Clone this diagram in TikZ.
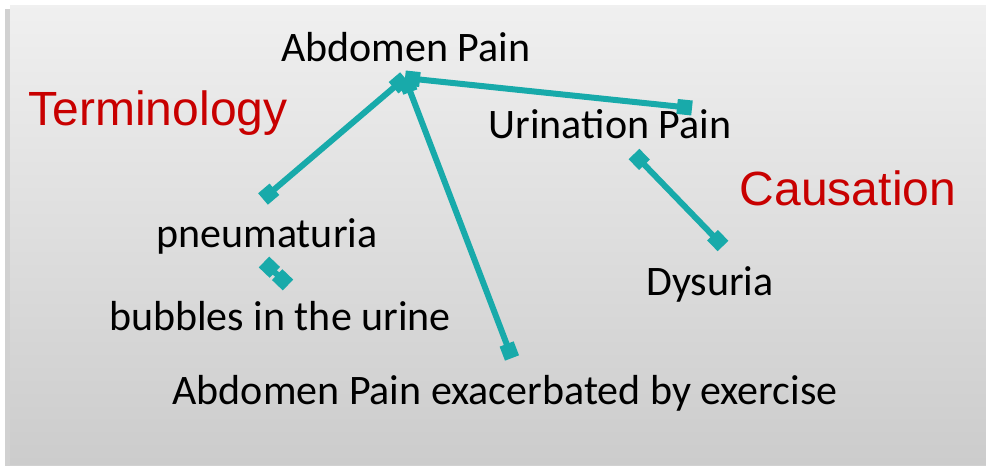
\documentclass[tikz,border=0pt]{standalone}
\usepackage{fontspec}
\setmainfont{Carlito}
\newfontfamily\arialfont{Liberation Sans}
\usetikzlibrary{arrows.meta}
\definecolor{linkteal}{RGB}{24,170,170}
\definecolor{headred}{RGB}{200,0,0}

\begin{document}
\begin{tikzpicture}[x=1pt,y=-1pt,
  link/.style={linkteal,line width=6pt,{Square[length=15pt,width=15pt]}-{Square[length=15pt,width=15pt]}},
  term/.style={anchor=base,inner sep=0pt,font=\fontsize{42}{50}\selectfont},
  head/.style={anchor=base,inner sep=0pt,text=headred,font=\arialfont\fontsize{48}{56}\selectfont}]
\useasboundingbox (0,0) rectangle (986,466);
% panel with soft shadow
\fill[black!18] (5,9) rectangle (986,466);
\shade[top color=black!6,bottom color=black!20] (10,5) rectangle (986,464);
% end points of the links
\coordinate (hub) at (405,78); \coordinate (urin) at (692,108);
\coordinate (pneu) at (263,199); \coordinate (exer) at (512,358);
\coordinate (urinB) at (634,154); \coordinate (dysu) at (723,246);
\coordinate (pneuB) at (264,262); \coordinate (bubb) at (288,285);
% links
\draw[link] (hub)--(urin);
\draw[link] (hub)--(pneu);
\draw[link] (hub)--(exer);
\draw[link] (urinB)--(dysu);
\draw[link] (pneuB)--(bubb);
% texts
\node[term] (abd) at (406,61) {Abdomen Pain};
\node[term] (uri) at (610,138) {Urination Pain};
\node[term] (pnm) at (267,247) {pneumaturia};
\node[term] (dys) at (710,295) {Dysuria};
\node[term] (bub) at (280,330) {bubbles in the urine};
\node[term] (abx) at (505,404) {Abdomen Pain exacerbated by exercise};
\node[head] (trm) at (158,125) {Terminology};
\node[head] (cau) at (848,205) {Causation};
\end{tikzpicture}
\end{document}
